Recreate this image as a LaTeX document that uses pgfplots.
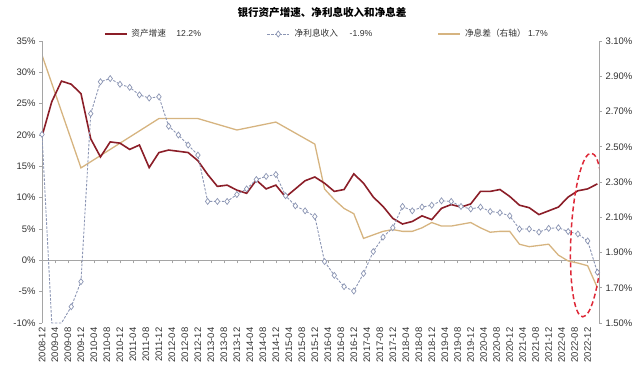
\documentclass[border=0pt]{standalone}
\usepackage{fontspec}
\setmainfont{Liberation Sans}
\newfontfamily\cjk{Noto Sans CJK SC}
\usepackage{pgfplots}
\pgfplotsset{compat=1.18}
\usepackage{pgfplotstable}

\definecolor{assetred}{RGB}{139,30,40}
\definecolor{nimtan}{RGB}{214,180,128}
\definecolor{niiblue}{RGB}{140,150,180}
\definecolor{axgray}{RGB}{165,165,165}
\definecolor{ellred}{RGB}{222,40,55}
\definecolor{txt}{RGB}{50,50,50}

\pgfplotstableread{
m asset nii
0 19.8 20.1
3 25.3 -10
6 28.6 -10
9 28.1 -7.4
12 26.6 -3.4
15 19.4 23.4
18 16.5 28.5
21 18.9 29.0
24 18.7 28.1
27 17.7 27.6
30 18.4 26.4
33 14.8 25.9
36 17.2 26.1
39 17.6 21.4
42 17.4 20.0
45 17.2 18.4
48 15.9 16.8
51 13.7 9.4
54 11.8 9.4
57 12.0 9.4
60 11.2 10.5
63 10.7 11.4
66 12.8 12.9
69 11.4 13.4
72 12.0 13.7
75 10.1 10.3
78 11.4 8.7
81 12.7 7.9
84 13.3 7.0
87 12.3 -0.2
90 11.0 -2.4
93 11.3 -4.2
96 13.8 -4.9
99 12.3 -2.1
102 10.1 1.4
105 8.6 3.7
108 6.7 5.2
111 5.8 8.6
114 6.2 7.9
117 7.1 8.5
120 6.5 8.8
123 8.3 9.5
126 8.9 9.4
129 8.5 8.6
132 9.0 8.2
135 11.0 8.5
138 11.0 7.8
141 11.3 7.6
144 10.2 7.1
147 8.8 5.0
150 8.4 5.0
153 7.3 4.5
156 7.9 5.1
159 8.5 5.2
162 10.1 4.6
165 11.1 4.2
168 11.4 3.1
171 12.2 -1.9
}\bankdata

\pgfplotstableread{
m nim
0 3.02
12 2.38
24 2.52
36 2.66
48 2.66
60 2.595
72 2.64
84 2.515
87 2.26
90 2.20
93 2.15
96 2.12
99 1.98
102 2.00
105 2.02
108 2.03
111 2.02
114 2.02
117 2.04
120 2.07
123 2.05
126 2.05
129 2.06
132 2.07
135 2.04
138 2.015
141 2.02
144 2.02
147 1.947
150 1.933
153 1.94
156 1.947
159 1.885
162 1.852
165 1.84
168 1.825
171 1.70
}\nimdata

\pgfplotsset{
  base/.style={
    scale only axis, width=557bp, height=282bp,
    at={(42bp,55bp)}, anchor=south west,
    xmin=0, xmax=171.5,
    tick label style={font=\fontsize{9.5}{11}\selectfont, text=txt},
    axis line style={axgray,-}, tick style={axgray, line width=0.6bp},
    major tick length=3bp,
  },
  niistyle/.style={niiblue, line width=0.9bp, dash pattern=on 2.5bp off 1.5bp,
    mark=diamond*, mark size=3bp,
    mark options={solid, fill=white, draw=niiblue, line width=0.7bp}},
}

\begin{document}
\begin{tikzpicture}[x=1bp,y=1bp]
\useasboundingbox (0,0) rectangle (640,378);

\node[font=\cjk\bfseries\fontsize{10.6}{12}\selectfont, text=black] at (322,365) {银行资产增速、净利息收入和净息差};

% zero line with tick marks
\begin{axis}[base, ymin=-10, ymax=35,
  axis x line=middle, axis y line=none,
  xtick={0,4,...,168}, xticklabels={}, tick align=outside,
  x axis line style={axgray,-}]
\end{axis}

% right axis: net interest margin
\begin{axis}[base, ymin=1.5, ymax=3.1,
  axis y line*=right, axis x line=none,
  ytick={1.5,1.7,1.9,2.1,2.3,2.5,2.7,2.9,3.1},
  yticklabels={1.50\%,1.70\%,1.90\%,2.10\%,2.30\%,2.50\%,2.70\%,2.90\%,3.10\%},
  tick align=outside]
\addplot[nimtan, line width=1.3bp] table[x=m,y=nim]{\nimdata};
\end{axis}

% left axis
\begin{axis}[base, ymin=-10, ymax=35,
  axis y line*=left, axis x line*=bottom,
  x axis line style={draw=none},
  every major x tick/.append style={draw=none},
  xtick={0,4,...,168},
  xticklabels={2008-12,2009-04,2009-08,2009-12,2010-04,2010-08,2010-12,2011-04,2011-08,2011-12,2012-04,2012-08,2012-12,2013-04,2013-08,2013-12,2014-04,2014-08,2014-12,2015-04,2015-08,2015-12,2016-04,2016-08,2016-12,2017-04,2017-08,2017-12,2018-04,2018-08,2018-12,2019-04,2019-08,2019-12,2020-04,2020-08,2020-12,2021-04,2021-08,2021-12,2022-04,2022-08,2022-12},
  xticklabel style={rotate=90, anchor=east, inner sep=1.5bp},
  ytick={-10,-5,...,35},
  yticklabels={-10\%,-5\%,0\%,5\%,10\%,15\%,20\%,25\%,30\%,35\%},
  tick align=outside,
  legend columns=3,
  legend image code/.code={\draw[mark repeat=2,mark phase=2,#1] plot coordinates {(0bp,0bp) (11bp,0bp) (22bp,0bp)};},
  legend style={draw=none, fill=none, at={(0.1113,1.0248)}, anchor=west,
    inner sep=0pt, column sep=0pt, row sep=0pt,
    nodes={inner sep=0pt, text=txt, font=\fontsize{8.7}{10}\selectfont}},
  legend cell align=left,
  ]
\addplot[assetred, line width=1.6bp] table[x=m,y=asset]{\bankdata};
\addlegendentry{\makebox[139bp][l]{\hspace{3.6bp}\makebox[45bp][l]{\cjk 资产增速}12.2\%}}
\addplot[niistyle, forget plot,
  mark indices={1,4,5,6,7,8,9,10,11,12,13,14,15,16,17,18,19,20,21,22,23,24,25,26,27,28,29,30,31,32,33,34,35,36,37,38,39,40,41,42,43,44,45,46,47,48,49,50,51,52,53,54,55,56,57,58}]
  table[x=m,y=nii]{\bankdata};
\addlegendimage{niistyle}
\addlegendentry{\makebox[148bp][l]{\hspace{5bp}\makebox[55bp][l]{\cjk 净利息收入}-1.9\%}}
\addlegendimage{nimtan, line width=1.3bp}
\addlegendentry{\makebox[90bp][l]{\hspace{4bp}\makebox[63bp][l]{\cjk 净息差（右轴）}1.7\%}}
\draw[ellred, line width=1.5bp, dash pattern=on 5bp off 3bp]
  (axis cs:167.8,4.05) ellipse [x radius=16bp, y radius=82bp, rotate=-3];
\end{axis}
\end{tikzpicture}
\end{document}
